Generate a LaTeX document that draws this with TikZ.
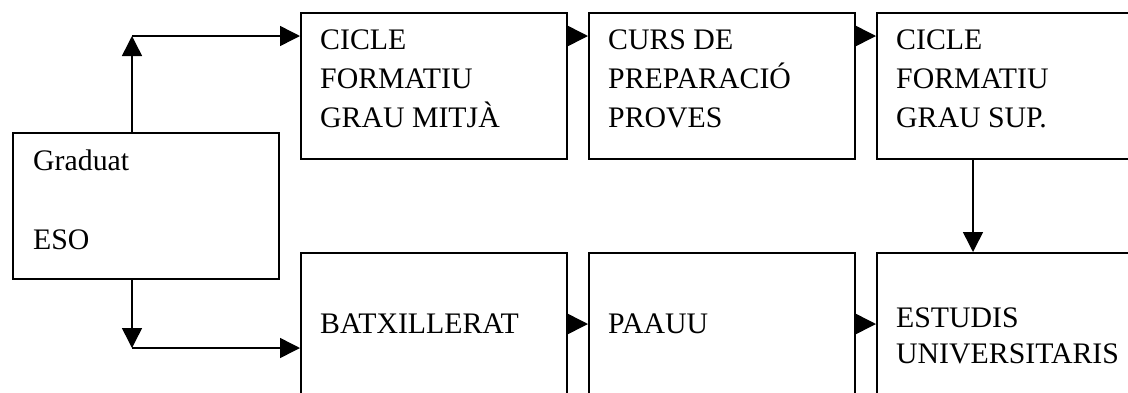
\documentclass[tikz,border=0pt]{standalone}
\usepackage{fontspec}
\setmainfont{Liberation Serif}
\usetikzlibrary{arrows.meta}
\tikzset{
  box/.style={draw, rectangle, anchor=north west, inner sep=0pt, line width=1.5pt},
  txt/.style={anchor=base west, inner sep=0pt, font=\fontsize{29.8}{35}\selectfont},
  arr/.style={line width=1.5pt, -{Triangle[length=20pt,width=20pt]}},
  ln/.style={line width=1.5pt}
}
\begin{document}
\begin{tikzpicture}[x=1pt,y=-1pt]
\clip (0,0) rectangle (1128,392);
\fill[white] (0,0) rectangle (1128,392);
% boxes
\node[box, minimum width=266pt, minimum height=146pt] (g) at (12,132) {};
\node[box, minimum width=266pt, minimum height=146pt] (b1) at (300,12) {};
\node[box, minimum width=266pt, minimum height=146pt] (b2) at (588,12) {};
\node[box, minimum width=270pt, minimum height=146pt] (b3) at (876,12) {};
\node[box, minimum width=266pt, minimum height=160pt] (d1) at (300,252) {};
\node[box, minimum width=266pt, minimum height=160pt] (d2) at (588,252) {};
\node[box, minimum width=270pt, minimum height=160pt] (d3) at (876,252) {};
% texts
\node[txt] (gt1) at (33,170) {Graduat};
\node[txt] (gt2) at (33,249) {ESO};
\node[txt] (t11) at (320,49) {CICLE};
\node[txt] (t12) at (320,88) {FORMATIU};
\node[txt] (t13) at (320,127) {GRAU MITJÀ};
\node[txt] (t21) at (608,49) {CURS DE};
\node[txt] (t22) at (608,88) {PREPARACIÓ};
\node[txt] (t23) at (608,127) {PROVES};
\node[txt] (t31) at (896,49) {CICLE};
\node[txt] (t32) at (896,88) {FORMATIU};
\node[txt] (t33) at (896,127) {GRAU SUP.};
\node[txt] (u1) at (320,333) {BATXILLERAT};
\node[txt] (u2) at (608,333) {PAAUU};
\node[txt] (u31) at (896,327) {ESTUDIS};
\node[txt] (u32) at (896,363) {UNIVERSITARIS};
% connectors
\coordinate (cu) at (132,36);
\coordinate (cd) at (132,348);
\coordinate (rb) at (0,324);
\draw[arr] (g.north -| cu) -- (cu);
\draw[arr] (cu) -- (b1.west |- cu);
\draw[arr] (g.south -| cd) -- (cd);
\draw[arr] (cd) -- (d1.west |- cd);
\draw[arr] (b1.east |- cu) -- (b2.west |- cu);
\draw[arr] (b2.east |- cu) -- (b3.west |- cu);
\draw[arr] (d1.east |- rb) -- (d2.west |- rb);
\draw[arr] (d2.east |- rb) -- (d3.west |- rb);
\coordinate (vx) at (973,0);
\draw[arr] (b3.south -| vx) -- (d3.north -| vx);
\end{tikzpicture}
\end{document}
